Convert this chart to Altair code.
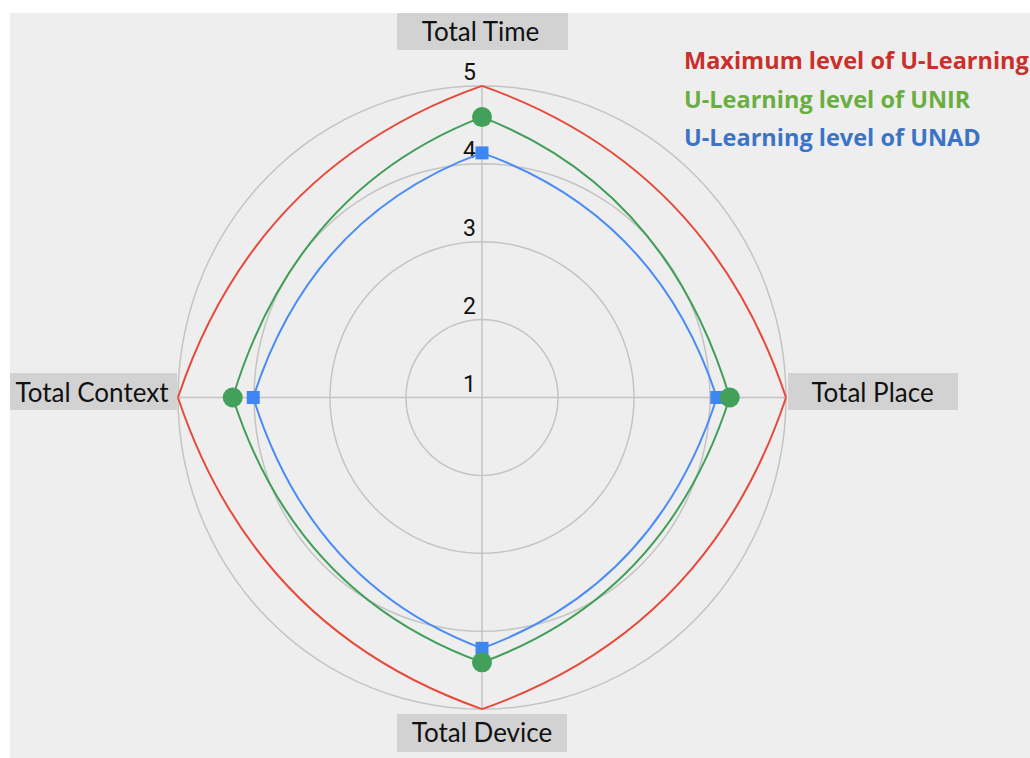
import numpy as np
import pandas as pd
import altair as alt

# ---- data -------------------------------------------------------------
categories = ["Total Time", "Total Place", "Total Device", "Total Context"]
angles_deg = [0, 90, 180, 270]          # clockwise from the top
series_names = ["Maximum level of U-Learning",
                "U-Learning level of UNIR",
                "U-Learning level of UNAD"]
max_level = [5, 5, 5, 5]
unir_level = [4.6, 4.26, 4.4, 4.28]
unad_level = [4.14, 4.09, 4.22, 4.01]
ring_levels = [2, 3, 4, 5]
tick_levels = [1, 2, 3, 4, 5]
tick_labels = ["1", "2", "3", "4", "5"]

# ---- styling ----------------------------------------------------------
line_colors = ["#e64a3b", "#3f9f58", "#4a8cf6"]
legend_colors = ["#c9302c", "#6aae42", "#3b74c6"]
grid_color = "#c4c4c4"
box_color = "#d3d2d2"
LABEL_FONT = "Lato"
LEGEND_FONT = "Open Sans"
BASE = 1     # value sitting at the centre of the web
BOW = 0.745  # outward pull of each edge's (quadratic) Bezier handle


def to_xy(value, angle):
    r = value - BASE
    a = np.radians(angle)
    return r * np.sin(a), r * np.cos(a)


series_values = [max_level, unir_level, unad_level]

# vertices (one row per series and axis)
vert_rows = []
for name, vals in zip(series_names, series_values):
    for cat, ang, v in zip(categories, angles_deg, vals):
        x, y = to_xy(v, ang)
        vert_rows.append({"series": name, "category": cat, "value": v, "x": x, "y": y})
vert_df = pd.DataFrame(vert_rows)

# Every edge of the web is its own "cardinal-open" piece: only the two
# vertices are drawn, the outer rows are tangent guides chosen so that the
# piece bows outward like a quadratic Bezier and stays pointed at each axis.
edge_rows = []
n = len(categories)
for name, vals in zip(series_names, series_values):
    for i in range(n):
        j = (i + 1) % n
        p1 = np.array(to_xy(vals[i], angles_deg[i]))
        p2 = np.array(to_xy(vals[j], angles_deg[j]))
        handle = BOW * (p1 + p2)
        guide_a = p2 - 4 * (handle - p1)
        guide_b = p1 - 4 * (handle - p2)
        for k, p in enumerate([guide_a, p1, p2, guide_b]):
            edge_rows.append({"series": name, "edge": f"{name}-{i}", "k": k,
                              "x": float(p[0]), "y": float(p[1])})
edge_df = pd.DataFrame(edge_rows)

# concentric grid rings
ring_rows = []
for lvl in ring_levels:
    for t in range(0, 361, 3):
        x, y = to_xy(lvl, t)
        ring_rows.append({"ring": lvl, "t": t, "x": x, "y": y})
ring_df = pd.DataFrame(ring_rows)

# spokes out to the outer ring
spoke_rows = []
for cat, ang in zip(categories, angles_deg):
    x, y = to_xy(max(ring_levels), ang)
    spoke_rows.append({"category": cat, "x0": 0.0, "y0": 0.0, "x": x, "y": y})
spoke_df = pd.DataFrame(spoke_rows)

tick_df = pd.DataFrame({"label": tick_labels, "x": 0.0,
                        "y": [lv - BASE for lv in tick_levels]})

xs = alt.Scale(domain=[-6.2105, 7.2105], nice=False, zero=False)
ys = alt.Scale(domain=[-4.6277, 4.9358], nice=False, zero=False)


def X(field):
    return alt.X(field, type="quantitative", scale=xs, axis=None)


def Y(field):
    return alt.Y(field, type="quantitative", scale=ys, axis=None)


rings = alt.Chart(ring_df).mark_line(color=grid_color, strokeWidth=1.5).encode(
    x=X("x"), y=Y("y"), detail="ring:N", order="t:Q"
)

spokes = alt.Chart(spoke_df).mark_rule(color=grid_color, strokeWidth=1.5).encode(
    x=X("x0"), y=Y("y0"), x2="x:Q", y2="y:Q"
)

ticks = alt.Chart(tick_df).mark_text(
    align="right", baseline="middle", dx=-6, dy=-13,
    font="Roboto", fontSize=23, color="#111111"
).encode(x=X("x"), y=Y("y"), text="label:N")

lines = alt.Chart(edge_df).mark_line(
    interpolate="cardinal-open", tension=0, strokeWidth=2
).encode(
    x=X("x"), y=Y("y"),
    color=alt.Color("series:N", scale=alt.Scale(domain=series_names, range=line_colors), legend=None),
    detail="edge:N",
    order=alt.Order("k:Q"),
)

unad_marks = alt.Chart(vert_df).transform_filter(
    alt.datum.series == series_names[2]
).mark_point(
    shape="square", filled=True, size=169, opacity=1, color="#3f86f5"
).encode(x=X("x"), y=Y("y"))

unir_marks = alt.Chart(vert_df).transform_filter(
    alt.datum.series == series_names[1]
).mark_point(
    shape="circle", filled=True, size=400, opacity=1, color="#43a05a"
).encode(x=X("x"), y=Y("y"))

# category captions sit in grey boxes just outside each spoke end
caption_style = {
    "Total Time":    dict(box=(0.5, -54.4), w=171, h=37, text=(-1.5, -52.5)),
    "Total Place":   dict(box=(87, -6), w=170, h=37, text=(86.5, -3.5)),
    "Total Device":  dict(box=(0, 24), w=170, h=38, text=(0, 25)),
    "Total Context": dict(box=(-84.5, -6), w=167, h=37, text=(-86, -3.5)),
}

captions = []
for cat, st in caption_style.items():
    k = st["h"] / st["w"]
    path = f"M-1,-{k:.4f}L1,-{k:.4f}L1,{k:.4f}L-1,{k:.4f}Z"
    base = alt.Chart(spoke_df).transform_filter(alt.datum.category == cat)
    captions.append(base.mark_point(
        shape=path, filled=True, size=st["w"] ** 2, opacity=1,
        color=box_color, strokeWidth=0,
        xOffset=st["box"][0], yOffset=st["box"][1],
    ).encode(x=X("x"), y=Y("y")))
    captions.append(base.mark_text(
        align="center", baseline="middle", font=LABEL_FONT, fontSize=26,
        color="#111111", dx=st["text"][0], dy=st["text"][1],
    ).encode(x=X("x"), y=Y("y"), text="category:N"))

legend_rows = [49, 88, 126]
legend = [
    alt.Chart(pd.DataFrame({"name": [name]})).mark_text(
        align="left", baseline="middle", font=LEGEND_FONT, fontWeight="bold",
        fontSize=23.5, color=col,
    ).encode(x=alt.value(674), y=alt.value(yy), text="name:N")
    for name, col, yy in zip(series_names, legend_colors, legend_rows)
]

chart = alt.layer(
    rings, spokes, ticks, lines, unad_marks, unir_marks, *captions, *legend
).properties(
    width=1020, height=745,
    background="white",
    padding={"left": 10, "top": 13, "right": 0, "bottom": 0},
    autosize=alt.AutoSizeParams(type="none"),
).configure_view(fill="#eeeeee", strokeWidth=0)

chart.save("out.html", embed_options={"renderer": "svg", "actions": False})
